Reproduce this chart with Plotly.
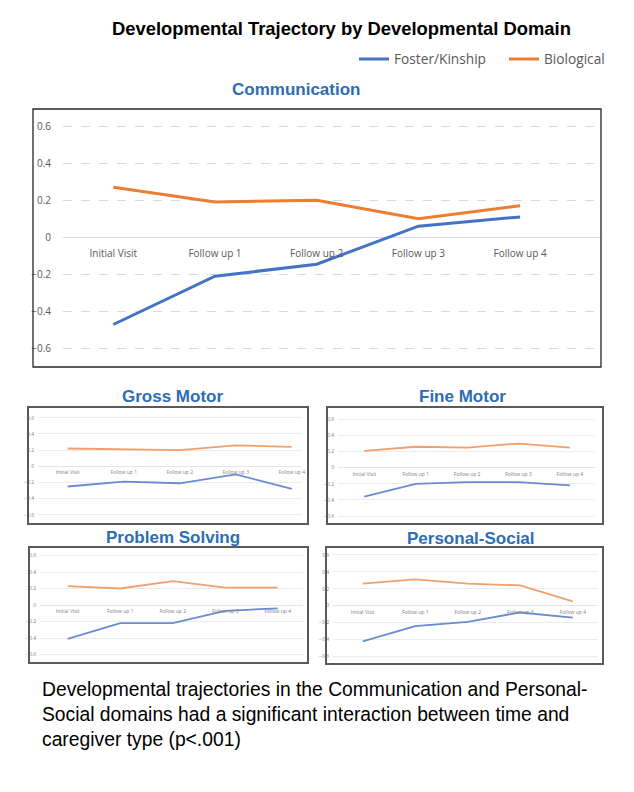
import plotly.graph_objects as go

# page offset (browser body margin) and figure size
OX, OY = 8, 8
W, H = 626, 776

# ---------------- data ----------------
categories = ["Initial Visit", "Follow up 1", "Follow up 2", "Follow up 3", "Follow up 4"]
series_names = ["Foster/Kinship", "Biological"]

comm_foster = [-0.47, -0.21, -0.145, 0.06, 0.11]
comm_bio = [0.27, 0.19, 0.20, 0.10, 0.17]

gross_foster = [-0.25, -0.19, -0.21, -0.10, -0.28]
gross_bio = [0.22, 0.21, 0.20, 0.26, 0.24]

fine_foster = [-0.36, -0.20, -0.18, -0.18, -0.22]
fine_bio = [0.21, 0.26, 0.25, 0.30, 0.25]

prob_foster = [-0.41, -0.22, -0.22, -0.07, -0.04]
prob_bio = [0.23, 0.20, 0.29, 0.21, 0.21]

pers_foster = [-0.42, -0.24, -0.19, -0.08, -0.14]
pers_bio = [0.26, 0.31, 0.26, 0.24, 0.05]

panel_titles = ["Communication", "Gross Motor", "Fine Motor", "Problem Solving", "Personal-Social"]
main_title = "Developmental Trajectory by Developmental Domain"
caption = ("Developmental trajectories in the Communication and Personal-<br>"
           "Social domains had a significant interaction between time and<br>"
           "caregiver type (p<.001)")

# ---------------- layout helpers ----------------
def px(x):
    return (x - OX) / W

def py(y):
    return 1 - (y - OY) / H

BLUE, ORANGE = "#4472C4", "#ED7D31"
BLUE_L, ORANGE_L = "#6A8BD2", "#F0A06C"
TITLE_BLUE = "#2E6DB4"

panels = [
    dict(data=(comm_foster, comm_bio), x0=63, x1=601, c0=113.3, s=101.7,
         y0=110, y1=366, z=237.3, u=185.5, box=(33, 109, 601, 367), bw=1.3, bc="#262626",
         tpos=(296, 90), small=False),
    dict(data=(gross_foster, gross_bio), x0=38, x1=302, c0=67.7, s=56,
         y0=410, y1=521, z=466.3, u=80.8, box=(28, 407, 308, 524), bw=2, bc="#5a5a5a",
         tpos=(172, 396), small=True),
    dict(data=(fine_foster, fine_bio), x0=338, x1=595, c0=364.3, s=51.4,
         y0=410, y1=521, z=467.7, u=80.5, box=(327, 407, 603, 524), bw=2, bc="#5a5a5a",
         tpos=(463, 396), small=True),
    dict(data=(prob_foster, prob_bio), x0=40, x1=303, c0=67.7, s=52.5,
         y0=550, y1=660, z=605, u=82.5, box=(29, 547, 308, 663), bw=2, bc="#5a5a5a",
         tpos=(173, 537), small=True),
    dict(data=(pers_foster, pers_bio), x0=333, x1=598, c0=362.7, s=52.5,
         y0=550, y1=661, z=605.7, u=84.7, box=(326, 547, 603, 664), bw=2, bc="#5a5a5a",
         tpos=(471, 538), small=True),
]

fig = go.Figure()
layout = {}
shapes = []
annotations = []

for i, p in enumerate(panels):
    n = "" if i == 0 else str(i + 1)
    xa, ya = "x" + n, "y" + n
    foster, bio = p["data"]
    small = p["small"]
    lw = 1.8 if small else 3
    cb, co = (BLUE_L, ORANGE_L) if small else (BLUE, ORANGE)
    fig.add_trace(go.Scatter(x=categories, y=foster, mode="lines", name=series_names[0],
                             line=dict(color=cb, width=lw), xaxis=xa, yaxis=ya,
                             showlegend=not small))
    fig.add_trace(go.Scatter(x=categories, y=bio, mode="lines", name=series_names[1],
                             line=dict(color=co, width=lw), xaxis=xa, yaxis=ya,
                             showlegend=not small))

    xr = [(p["x0"] - p["c0"]) / p["s"], (p["x1"] - p["c0"]) / p["s"]]
    yr = [-(p["y1"] - p["z"]) / p["u"], (p["z"] - p["y0"]) / p["u"]]

    tick_font = dict(family="Open Sans", size=5 if small else 10,
                     color="#808080" if small else "#595959")
    layout["xaxis" + n] = dict(
        type="category", domain=[px(p["x0"]), px(p["x1"])], range=xr,
        anchor="free", position=py(p["z"]),
        showgrid=False, zeroline=False, showline=False,
        ticks="outside", ticklen=1 if small else 7, tickcolor="rgba(0,0,0,0)",
        tickfont=tick_font, tickangle=0, fixedrange=True, automargin=False,
    )
    layout["yaxis" + n] = dict(
        domain=[py(p["y1"]), py(p["y0"])], range=yr, anchor=xa,
        dtick=0.2, tick0=0,
        showgrid=True, gridcolor="#ececec" if small else "#d9d9d9",
        griddash="solid" if small else "dash", gridwidth=1,
        zeroline=True, zerolinecolor="#e6e6e6" if small else "#d9d9d9", zerolinewidth=1,
        showline=False, ticks="outside", ticklen=2 if small else 9,
        tickcolor="rgba(0,0,0,0)", tickfont=tick_font, fixedrange=True, automargin=False,
    )
    bx0, by0, bx1, by1 = p["box"]
    shapes.append(dict(type="rect", xref="paper", yref="paper",
                       x0=px(bx0), x1=px(bx1), y0=py(by1), y1=py(by0),
                       line=dict(color=p["bc"], width=p["bw"]), fillcolor="rgba(0,0,0,0)",
                       layer="above"))
    annotations.append(dict(text="<b>" + panel_titles[i] + "</b>", xref="paper", yref="paper",
                            x=px(p["tpos"][0]), y=py(p["tpos"][1]), xanchor="center",
                            yanchor="middle", showarrow=False,
                            font=dict(family="Liberation Sans", size=17, color=TITLE_BLUE)))

annotations.append(dict(text="<b>" + main_title + "</b>", xref="paper", yref="paper",
                        x=px(341), y=py(28), xanchor="center", yanchor="middle",
                        showarrow=False,
                        font=dict(family="Liberation Sans", size=18.4, color="#000000")))
annotations.append(dict(text=caption, xref="paper", yref="paper",
                        x=px(40), y=py(677), xanchor="left", yanchor="top", align="left",
                        showarrow=False,
                        font=dict(family="Liberation Sans", size=19.3, color="#000000")))

fig.update_layout(
    width=W, height=H, margin=dict(l=0, r=0, t=0, b=0, autoexpand=False),
    paper_bgcolor="white", plot_bgcolor="white",
    showlegend=True,
    legend=dict(orientation="h", x=px(354), y=py(59), xanchor="left", yanchor="middle",
                font=dict(family="Open Sans", size=13.7, color="#595959"),
                bgcolor="rgba(0,0,0,0)", entrywidth=105, entrywidthmode="pixels",
                tracegroupgap=0),
    shapes=shapes, annotations=annotations,
    **layout,
)

fig.write_html("out.html")
